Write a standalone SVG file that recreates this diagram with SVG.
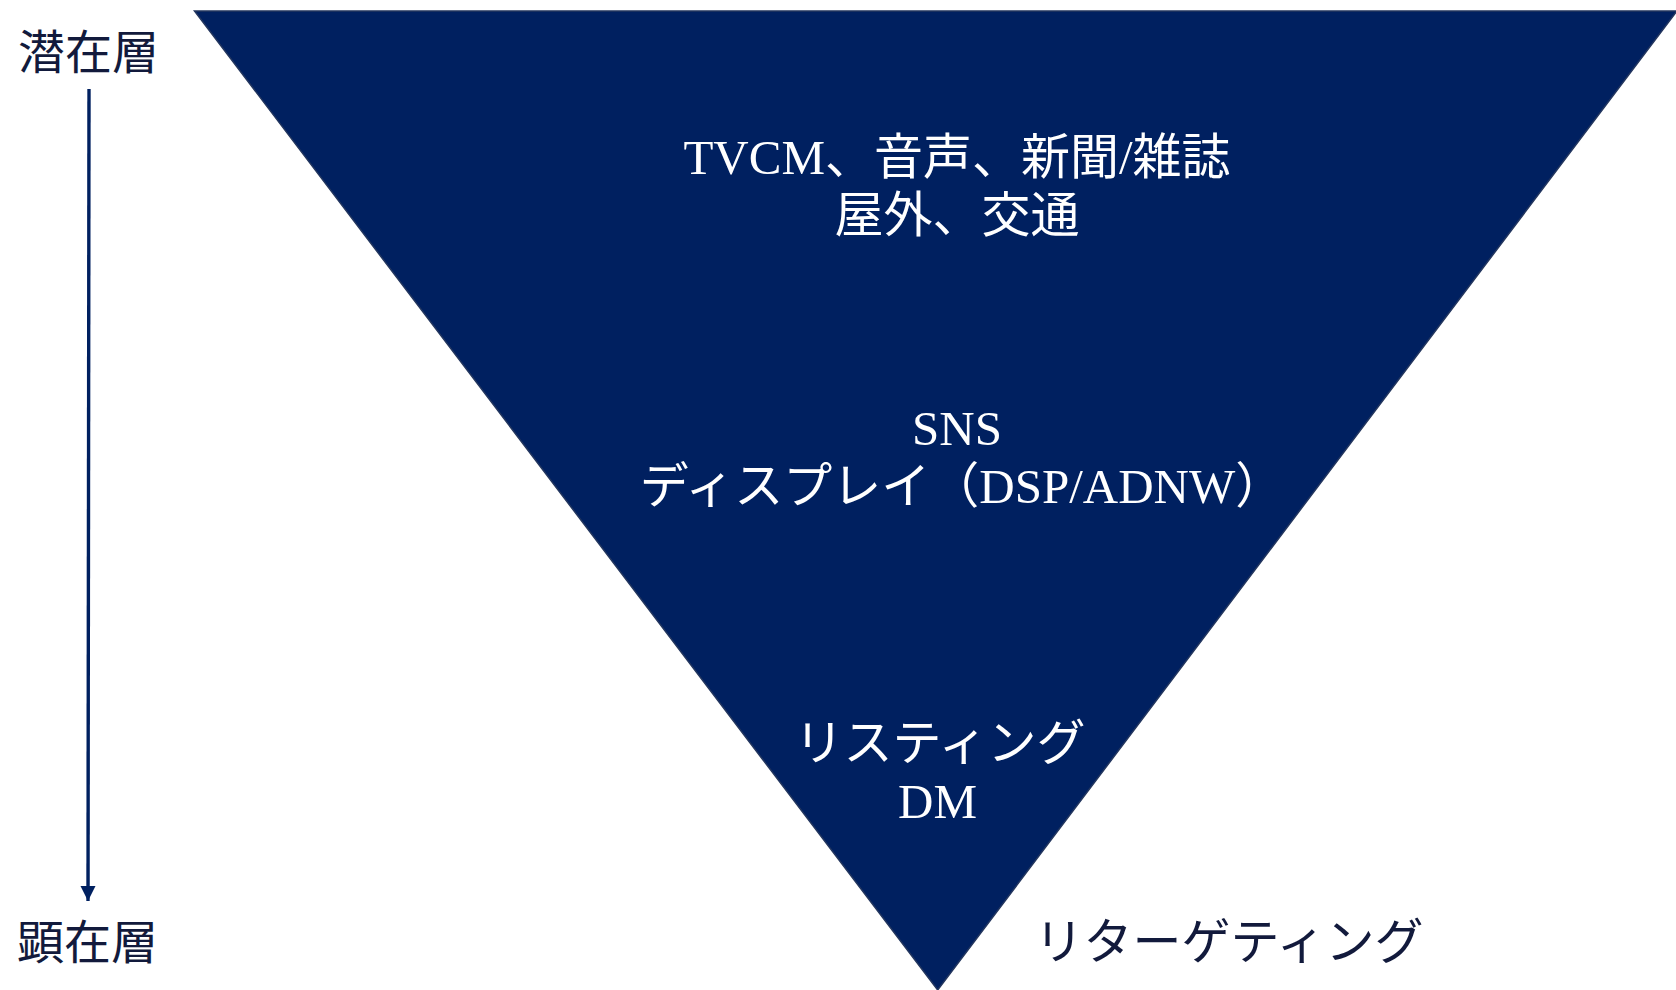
<svg xmlns="http://www.w3.org/2000/svg" width="1676" height="990" viewBox="0 0 1676 990">
<defs>
<style>
.lbl{font-family:"Liberation Serif","Noto Sans CJK JP",serif;font-size:47px;fill:#121a3c}
.in{font-family:"Liberation Serif","Noto Sans CJK JP",serif;font-size:49px;fill:#ffffff;text-anchor:middle}
</style>
<marker id="ah" viewBox="0 0 10 10" refX="10" refY="5" markerWidth="4.5" markerHeight="4.5" markerUnits="strokeWidth" orient="auto">
<path d="M0,0 L10,5 L0,10 z" fill="#002060"/>
</marker>
</defs>
<rect width="1676" height="990" fill="#ffffff"/>
<g id="funnel">
<polygon points="194.5,11 1677,11 937.7,990" fill="#002060" stroke="#23365e" stroke-width="1.5"/>
</g>
<g id="connectors">
<line x1="89" y1="89" x2="88" y2="901" stroke="#002060" stroke-width="3.4" marker-end="url(#ah)"/>
</g>
<g id="latent">
<text class="lbl" x="18" y="69">潜在層</text>
</g>
<g id="manifest">
<text class="lbl" x="17" y="959">顕在層</text>
</g>
<g id="mass-media">
<text class="in" x="957" y="174">TVCM、音声、新聞/雑誌</text>
<text class="in" x="957" y="232">屋外、交通</text>
</g>
<g id="sns-display">
<text class="in" x="957" y="445">SNS</text>
<text class="in" x="962" y="503">ディスプレイ（DSP/ADNW）</text>
</g>
<g id="listing-dm">
<text class="in" x="940" y="760">リスティング</text>
<text class="in" x="937.5" y="818">DM</text>
</g>
<g id="retargeting">
<text class="lbl" x="1229" y="959" text-anchor="middle" style="font-size:49px">リターゲティング</text>
</g>
</svg>
